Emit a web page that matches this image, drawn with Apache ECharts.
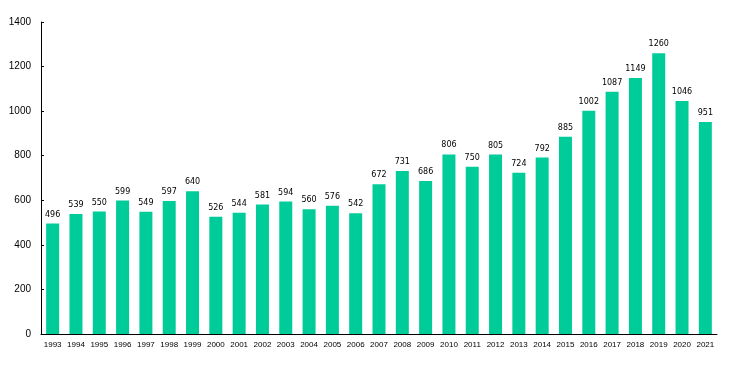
<!DOCTYPE html>
<html><head><meta charset="utf-8">
<script src="https://cdn.jsdelivr.net/npm/echarts@6/dist/echarts.min.js"></script>
<style>html,body{margin:0;padding:0;background:#fff}#c{width:736px;height:387px}</style>
</head><body><div id="c"></div>
<script>
const years = ['1993','1994','1995','1996','1997','1998','1999','2000','2001','2002','2003','2004','2005','2006','2007','2008','2009','2010','2011','2012','2013','2014','2015','2016','2017','2018','2019','2020','2021'];
const values = [496,539,550,599,549,597,640,526,544,581,594,560,576,542,672,731,686,806,750,805,724,792,885,1002,1087,1149,1260,1046,951];
const yTicks = [0,200,400,600,800,1000,1200,1400];
const chart = echarts.init(document.getElementById('c'), null, {renderer:'canvas'});
chart.setOption({
  animation:false,
  grid:{left:41,right:19,top:22,bottom:53,containLabel:false},
  xAxis:{type:'category',data:years,
    axisLine:{lineStyle:{color:'#000',width:1}},
    axisTick:{inside:true,length:3,lineStyle:{color:'#000'}},
    axisLabel:{color:'#000',fontSize:8,fontFamily:'Liberation Sans, Arial, sans-serif',interval:0,margin:7}},
  yAxis:{type:'value',min:yTicks[0],max:yTicks[yTicks.length-1],interval:200,
    splitLine:{show:false},
    axisLine:{show:true,lineStyle:{color:'#000',width:1}},
    axisTick:{show:true,inside:true,length:3,lineStyle:{color:'#000'}},
    axisLabel:{color:'#000',fontSize:10,fontFamily:'Liberation Sans, Arial, sans-serif',margin:10,formatter:v=>String(v)}},
  series:[{type:'bar',data:values,barWidth:13,
    itemStyle:{color:'#00CC99'},
    label:{show:true,position:'top',color:'#000',fontSize:8,fontFamily:'DejaVu Sans, Verdana, sans-serif',distance:5}}]
});
</script></body></html>
